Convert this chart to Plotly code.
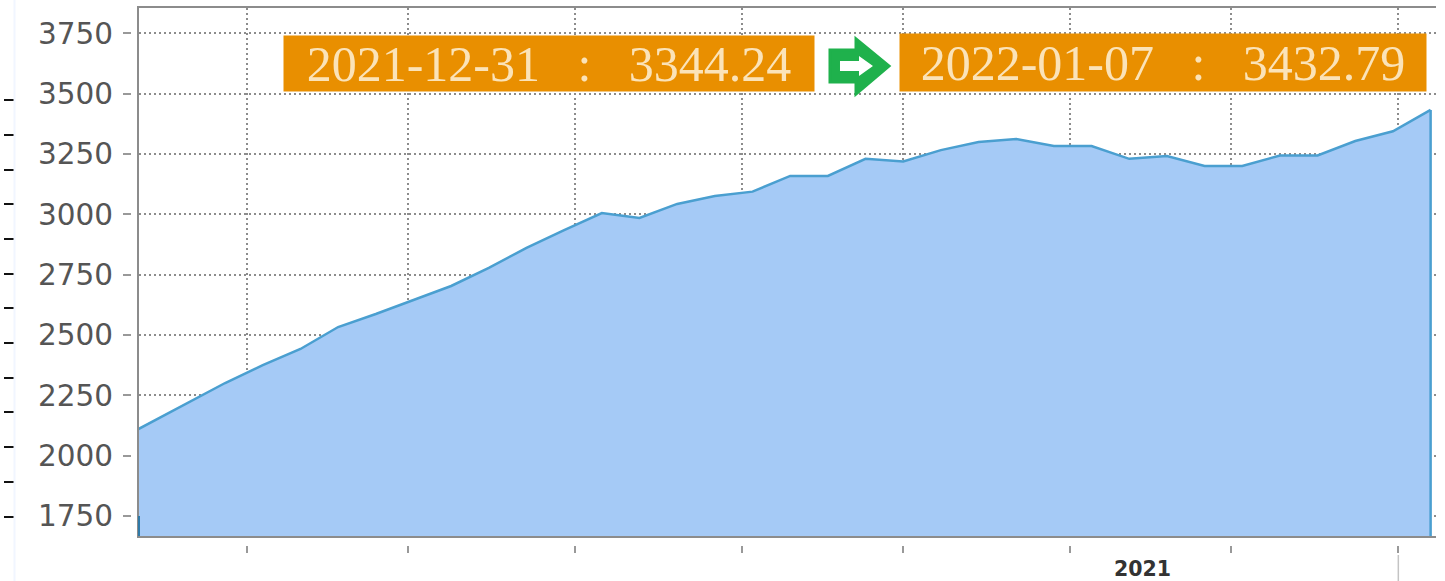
import plotly.graph_objects as go

W, H = 1445, 581

dates = ["2021-05-07", "2021-05-14", "2021-05-21", "2021-05-28", "2021-06-04", "2021-06-11",
         "2021-06-18", "2021-06-25", "2021-07-02", "2021-07-09", "2021-07-16", "2021-07-23",
         "2021-07-30", "2021-08-06", "2021-08-13", "2021-08-20", "2021-08-27", "2021-09-03",
         "2021-09-10", "2021-09-17", "2021-09-24", "2021-10-01", "2021-10-08", "2021-10-15",
         "2021-10-22", "2021-10-29", "2021-11-05", "2021-11-12", "2021-11-19", "2021-11-26",
         "2021-12-03", "2021-12-10", "2021-12-17", "2021-12-24", "2021-12-31", "2022-01-07"]
values = [2052, 2135, 2218, 2301, 2375, 2442, 2533, 2587, 2645, 2703, 2778, 2861,
          2935, 3005, 2985, 3043, 3076, 3094, 3159, 3159, 3230, 3219, 3266, 3300,
          3312, 3283, 3283, 3230, 3242, 3200, 3200, 3244, 3244, 3304, 3344.24, 3432.79]

y_ticks = [1750, 2000, 2250, 2500, 2750, 3000, 3250, 3500, 3750]
x_ticks = ["2021-06-01", "2021-07-01", "2021-08-01", "2021-09-01",
           "2021-10-01", "2021-11-01", "2021-12-01", "2022-01-01"]
side_ticks = [92, 127, 162, 196, 231, 266, 300, 335, 370, 404, 439, 474, 508.5, 543]
y_range = [1667, 3855]
x_range = ["2021-05-12", "2022-01-08"]
label_from = "2021-12-31 \u00a0\u00a0:\u00a0\u00a0 3344.24"
label_to = "2022-01-07 \u00a0\u00a0:\u00a0\u00a0 3432.79"
year_label = "2021"


def fx(px):
    return px / W


def fy(px):
    return 1 - px / H


fig = go.Figure()
fig.add_trace(go.Scatter(x=dates, y=values, mode="lines", fill="tozeroy",
                         fillcolor="#a5caf6", line=dict(color="#4a9fd0", width=2.5),
                         hoverinfo="skip", showlegend=False))
# helper traces that make the extra axes appear
fig.add_trace(go.Scatter(x=dates[:1], y=[None], yaxis="y2", showlegend=False, hoverinfo="skip"))
fig.add_trace(go.Scatter(x=dates[:1], y=[None], yaxis="y3", showlegend=False, hoverinfo="skip"))
fig.add_trace(go.Scatter(x=dates[:1], y=[None], xaxis="x2", showlegend=False, hoverinfo="skip"))

# vertical edges of the area
edge = dict(type="line", xref="x", yref="y", layer="above")
shapes = [
    dict(edge, x0=dates[-1], x1=dates[-1], y0=y_range[0], y1=values[-1],
         line=dict(color="#4a9fd0", width=2.5)),
    dict(type="line", xref="x domain", yref="y", x0=0, x1=0, y0=y_range[0], y1=1750,
         line=dict(color="#2f7aa8", width=2), layer="above"),
    dict(type="line", xref="x", yref="paper", x0=x_ticks[-1], x1=x_ticks[-1],
         y0=0, y1=fy(555), line=dict(color="#c4c4c4", width=1.5)),
    dict(type="line", xref="paper", yref="paper", x0=fx(14.5), x1=fx(14.5), y0=0, y1=1,
         line=dict(color="#f1f6ff", width=2)),
]


def arrow_path(points):
    return "M " + " L ".join(f"{fx(a):.5f},{fy(b):.5f}" for a, b in points) + " Z"


shapes.append(dict(type="path", xref="paper", yref="paper", fillcolor="#1fb14c",
                   line=dict(color="#1fb14c", width=3), layer="above",
                   path=arrow_path([(830, 50), (856, 50), (856, 39), (889, 66),
                                    (856, 94), (856, 82), (830, 82)])))
shapes.append(dict(type="path", xref="paper", yref="paper", fillcolor="#ffffff",
                   line=dict(width=0), layer="above",
                   path=arrow_path([(840, 61), (859, 61), (859, 56), (873, 66),
                                    (859, 76), (859, 71), (840, 71)])))

label_font = dict(family="Liberation Serif", size=50, color="#fbe3b8")
box = dict(xref="paper", yref="paper", showarrow=False, bgcolor="#e98f00",
           borderpad=0, font=label_font, align="center",
           xanchor="center", yanchor="middle")
annotations = [
    dict(box, text=label_from, x=fx(549), y=fy(63.5), width=530, height=55),
    dict(box, text=label_to, x=fx(1163), y=fy(62.5), width=526, height=57),
    dict(text=f"<b>{year_label}</b>", xref="paper", yref="paper", x=fx(1142), y=fy(569),
         showarrow=False, xanchor="center", yanchor="middle",
         font=dict(family="DejaVu Sans", size=20.5, color="#333333")),
]

grid = dict(showgrid=True, gridcolor="#8c8c8c", gridwidth=1.5, griddash="2px,3px")
fig.update_layout(
    width=W, height=H, margin=dict(l=0, r=0, t=0, b=0, autoexpand=False),
    paper_bgcolor="white", plot_bgcolor="white", showlegend=False,
    shapes=shapes, annotations=annotations,
    xaxis=dict(type="date", domain=[fx(139), fx(1436)], range=x_range, tickvals=x_ticks,
               showticklabels=False, ticks="", showline=True, linecolor="#8c8c8c",
               linewidth=2, mirror=True, zeroline=False, **grid),
    xaxis2=dict(type="date", overlaying="x", domain=[fx(139), fx(1436)], range=x_range,
                anchor="free", position=fy(545), side="bottom", tickvals=x_ticks,
                showticklabels=False, ticks="outside", ticklen=7, tickwidth=2,
                tickcolor="#999999", showline=False, showgrid=False, zeroline=False),
    yaxis=dict(domain=[fy(536), fy(8)], range=y_range, tickvals=y_ticks,
               showticklabels=False, ticks="", showline=True, linecolor="#8c8c8c",
               linewidth=2, zeroline=False, **grid),
    yaxis2=dict(overlaying="y", domain=[fy(536), fy(8)], range=y_range, anchor="free",
                position=fx(131), side="left", tickvals=y_ticks, ticks="outside",
                ticklen=8, tickwidth=2, tickcolor="#999999", showline=False,
                showgrid=False, zeroline=False, ticklabelstandoff=4,
                tickfont=dict(family="DejaVu Sans", size=29.5, color="#555555")),
    yaxis3=dict(overlaying="y", domain=[fy(536), fy(8)], range=[528, 0], anchor="free",
                position=fx(13.5), side="left", tickvals=side_ticks, ticks="outside",
                ticklen=10, tickwidth=1.5, tickcolor="#111111", showticklabels=False,
                showline=False, showgrid=False, zeroline=False),
)

fig.write_html("out.html", config=dict(displayModeBar=False),
               post_script="document.body.style.margin='0';")
